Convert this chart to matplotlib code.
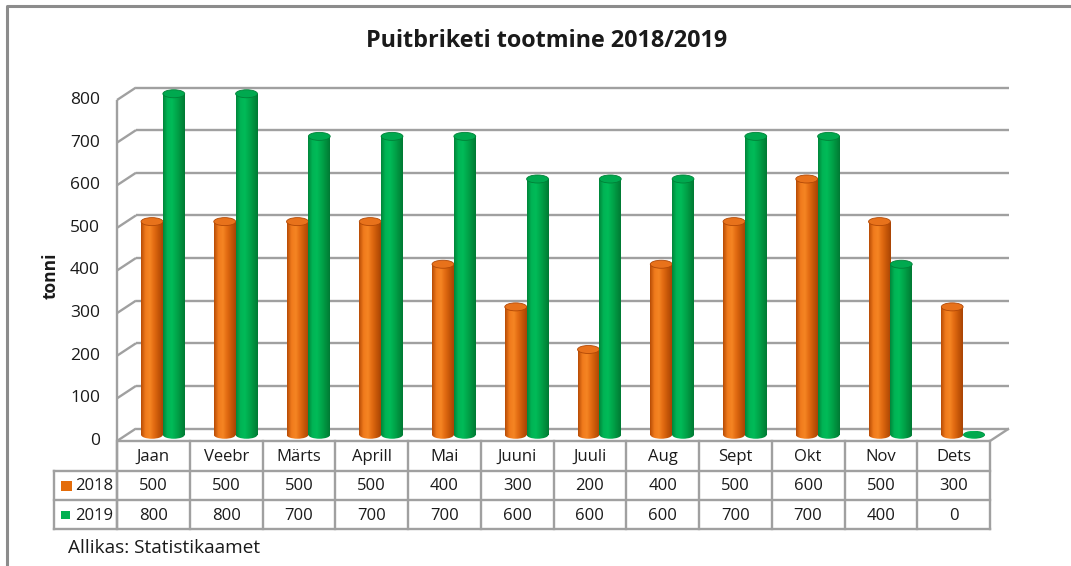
import matplotlib
matplotlib.use('Agg')
import matplotlib.pyplot as plt
import numpy as np
from matplotlib.colors import LinearSegmentedColormap
from matplotlib.patches import Ellipse, Rectangle
from matplotlib.transforms import ScaledTranslation, IdentityTransform
from matplotlib.lines import Line2D

# ---------------- data ----------------
categories = ["Jaan", "Veebr", "Märts", "Aprill", "Mai", "Juuni", "Juuli",
              "Aug", "Sept", "Okt", "Nov", "Dets"]
series_names = ["2018", "2019"]
values_2018 = [500, 500, 500, 500, 400, 300, 200, 400, 500, 600, 500, 300]
values_2019 = [800, 800, 700, 700, 700, 600, 600, 600, 700, 700, 400, 0]
yticks = [0, 100, 200, 300, 400, 500, 600, 700, 800]
title = "Puitbriketi tootmine 2018/2019"
ylabel = "tonni"
source = "Allikas: Statistikaamet"

# ---------------- style ----------------
plt.rcParams['font.family'] = ['Open Sans', 'DejaVu Sans']
W, H, DPI = 1071, 566, 100
GRID = '#a0a0a0'
TXT = '#1a1a1a'
orange_cmap = LinearSegmentedColormap.from_list(
    'or', ['#b84c05', '#f07a1c', '#f58523', '#e26b12', '#c65708', '#a94405'])
green_cmap = LinearSegmentedColormap.from_list(
    'gr', ['#00863a', '#00b455', '#00bb58', '#00a84c', '#00923f', '#007a34'])
cap_colors = ['#e8721b', '#00a94f']
cmaps = [orange_cmap, green_cmap]
legend_colors = ['#e46c0a', '#00b050']

fig = plt.figure(figsize=(W / DPI, H / DPI), dpi=DPI)

# front plane of the 3D box (pixel geometry)
FX0, FX1 = 117, 990
FY0, FY1 = 441, 100
DX, DY = 19, 12.5  # depth offset in px
ax = fig.add_axes([FX0 / W, 1 - FY0 / H, (FX1 - FX0) / W, (FY0 - FY1) / H])
n = len(categories)
ax.set_xlim(-0.5, n - 0.5)
ax.set_ylim(0, 800)
ax.axis('off')

back = ax.transData + ScaledTranslation(DX / DPI, DY / DPI, fig.dpi_scale_trans)
mid = ax.transData + ScaledTranslation(DX / 2 / DPI, DY / 2 / DPI, fig.dpi_scale_trans)


def disp(x, y):
    return ax.transData.transform((x, y))


def dline(p, q, **kw):
    fig.add_artist(Line2D([p[0], q[0]], [p[1], q[1]], transform=IdentityTransform(),
                          color=GRID, lw=1.7, solid_capstyle='butt', **kw))


# back wall gridlines
for t in yticks:
    ax.plot([-0.5, n - 0.5], [t, t], transform=back, color=GRID, lw=1.7,
            solid_capstyle='butt', zorder=1, clip_on=False)
    f = disp(-0.5, t)
    dline(f, f + np.array([DX, DY]))

# left wall front edge + floor front edge + right floor diagonal
fl = disp(-0.5, 0)
ft = disp(-0.5, 800)
fr = disp(n - 0.5, 0)
table_bottom_px = 529
dline(ft, (fl[0], H - table_bottom_px))
dline(fl, fr)
dline(fr, fr + np.array([DX, DY]))

# ---------------- cylinders ----------------
bw = 0.30
ell_h = 8 / ((FY0 - FY1) / 800)  # ellipse height in data units (8 px)
grad = np.linspace(0, 1, 64).reshape(1, -1)
for si, vals in enumerate([values_2018, values_2019]):
    xs = np.arange(n) + (si - 0.5) * bw
    bars = ax.bar(xs, vals, width=bw, transform=mid, color='none', lw=0, zorder=3,
                  clip_on=False)
    for x, v, b in zip(xs, vals, bars):
        be = Ellipse((x, 0), bw, ell_h, transform=mid, facecolor='none',
                     edgecolor='none', clip_on=False)
        ax.add_patch(be)
        im = ax.imshow(grad, cmap=cmaps[si], extent=(x - bw / 2, x + bw / 2,
                       -ell_h / 2, ell_h / 2), transform=mid, aspect='auto',
                       zorder=3 + si * 0.1)
        im.set_clip_box(fig.bbox)
        im.set_clip_path(be)
        if v > 0:
            im2 = ax.imshow(grad, cmap=cmaps[si], extent=(x - bw / 2, x + bw / 2, 0, v),
                            transform=mid, aspect='auto', zorder=3 + si * 0.1)
            im2.set_clip_box(fig.bbox)
            im2.set_clip_path(b)
            top = Ellipse((x, v), bw, ell_h, transform=mid, facecolor=cap_colors[si],
                          edgecolor=cmaps[si](0.95), lw=0.6, zorder=3.05 + si * 0.1,
                          clip_on=False)
            ax.add_patch(top)
        else:
            top = Ellipse((x, v), bw, ell_h * 0.7, transform=mid,
                          facecolor=cap_colors[si], edgecolor='none',
                          zorder=3.05 + si * 0.1, clip_on=False)
            ax.add_patch(top)

ax.set_xlim(-0.5, n - 0.5)
ax.set_ylim(0, 800)

# y tick labels (front plane)
for t in yticks:
    p = disp(-0.5, t)
    fig.text(100 / W, p[1] / H, f"{t}", ha='right', va='center', fontsize=12.5, color=TXT)

fig.text(51 / W, 1 - 276 / H, ylabel, rotation=90, ha='center', va='center',
         fontsize=12.5, fontweight='bold', color=TXT)

fig.text(547 / W, 1 - 41 / H, title, ha='center', va='center', fontsize=16.8,
         fontweight='bold', color=TXT)

# ---------------- data table ----------------
row_y = [441, 471, 500, 529]  # px boundaries
leg_x0 = 54


def fy(ypx):
    return 1 - ypx / H


def tline(x0, y0, x1, y1):
    fig.add_artist(Line2D([x0 / W, x1 / W], [fy(y0), fy(y1)], transform=fig.transFigure,
                          color=GRID, lw=1.7, solid_capstyle='projecting'))


col_edges = [disp(i - 0.5, 0)[0] for i in range(n + 1)]
for xe in col_edges:
    tline(xe, row_y[0], xe, row_y[3])
for yy in row_y[1:]:
    tline(leg_x0, yy, col_edges[-1], yy)
tline(leg_x0, row_y[1], leg_x0, row_y[3])

for i, c in enumerate(categories):
    xc = (col_edges[i] + col_edges[i + 1]) / 2
    fig.text(xc / W, fy((row_y[0] + row_y[1]) / 2 + 1), c, ha='center', va='center',
             fontsize=12, color=TXT)
    for r, vals in enumerate([values_2018, values_2019]):
        fig.text(xc / W, fy((row_y[r + 1] + row_y[r + 2]) / 2 + 1), f"{vals[i]}",
                 ha='center', va='center', fontsize=12, color=TXT)

for r, name in enumerate(series_names):
    yc = (row_y[r + 1] + row_y[r + 2]) / 2
    sw, sh = (11, 10) if r == 0 else (9, 8)
    fig.add_artist(Rectangle((61 / W, fy(yc + sh / 2)), sw / W, sh / H,
                             transform=fig.transFigure,
                             facecolor=legend_colors[r], edgecolor='none'))
    fig.text(113 / W, fy(yc + 1), name, ha='right', va='center', fontsize=12, color=TXT)

fig.text(68 / W, fy(548), source, ha='left', va='center', fontsize=13.7, color=TXT)

# outer chart border
fig.add_artist(Line2D([7 / W, 7 / W, 1.0], [0.0, fy(6), fy(6)], transform=fig.transFigure,
                      color='#8c8c8c', lw=2.2))

fig.savefig('out.png', dpi=DPI)
